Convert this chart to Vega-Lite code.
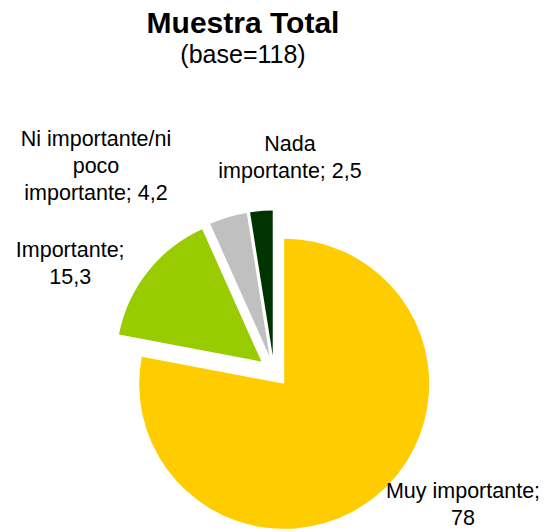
{
  "$schema": "https://vega.github.io/schema/vega-lite/v6.json",
  "width": 548,
  "height": 320,
  "autosize": {"type": "none"},
  "padding": {"top": 211.5, "left": 0, "right": 0, "bottom": 0},
  "background": "white",
  "view": {"stroke": null},
  "title": {
    "text": "Muestra Total",
    "subtitle": "(base=118)",
    "font": "Liberation Sans",
    "fontSize": 30,
    "fontWeight": "bold",
    "color": "black",
    "subtitleFont": "Liberation Sans",
    "subtitleFontSize": 25,
    "subtitleColor": "black",
    "subtitlePadding": 4,
    "anchor": "middle",
    "frame": "group",
    "dx": -31,
    "dy": 19,
    "offset": 80
  },
  "data": {
    "values": [
      {"categoria": "Muy importante", "orden": 1, "valor": 78, "etiqueta": "Muy importante;\n78"},
      {"categoria": "Importante", "orden": 2, "valor": 15.3, "etiqueta": "Importante;\n15,3"},
      {"categoria": "Ni importante/ni poco importante", "orden": 3, "valor": 4.2, "etiqueta": "Ni importante/ni\npoco\nimportante; 4,2"},
      {"categoria": "Nada importante", "orden": 4, "valor": 2.5, "etiqueta": "Nada\nimportante; 2,5"}
    ]
  },
  "encoding": {
    "theta": {"field": "valor", "type": "quantitative", "stack": true},
    "order": {"field": "orden", "type": "quantitative", "sort": "ascending"},
    "color": {
      "field": "categoria",
      "type": "nominal",
      "scale": {
        "domain": ["Muy importante", "Importante", "Ni importante/ni poco importante", "Nada importante"],
        "range": ["#FFCC00", "#99CC00", "#C0C0C0", "#003300"]
      },
      "legend": null
    }
  },
  "layer": [
    {
      "mark": {
        "type": "arc",
        "outerRadius": 145,
        "xOffset": {"expr": "16*sin((scale('theta', datum.valor_start)+scale('theta', datum.valor_end))/2)"},
        "yOffset": {"expr": "-16*cos((scale('theta', datum.valor_start)+scale('theta', datum.valor_end))/2)"}
      }
    },
    {
      "mark": {
        "type": "text",
        "font": "Liberation Sans",
        "fontSize": 21.5,
        "lineHeight": 27,
        "lineBreak": "\n",
        "align": "center",
        "baseline": "middle",
        "radius": {"expr": "datum.categoria === 'Muy importante' ? 224.2 : datum.categoria === 'Importante' ? 237 : datum.categoria === 'Nada importante' ? 226.6 : 292.4"},
        "thetaOffset": {"expr": "datum.categoria === 'Muy importante' ? -0.3117 : datum.categoria === 'Importante' ? -0.1335 : datum.categoria === 'Nada importante' ? 0.1492 : -0.3655"}
      },
      "encoding": {
        "text": {"field": "etiqueta", "type": "nominal"},
        "fill": {"value": "black"}
      }
    }
  ]
}
